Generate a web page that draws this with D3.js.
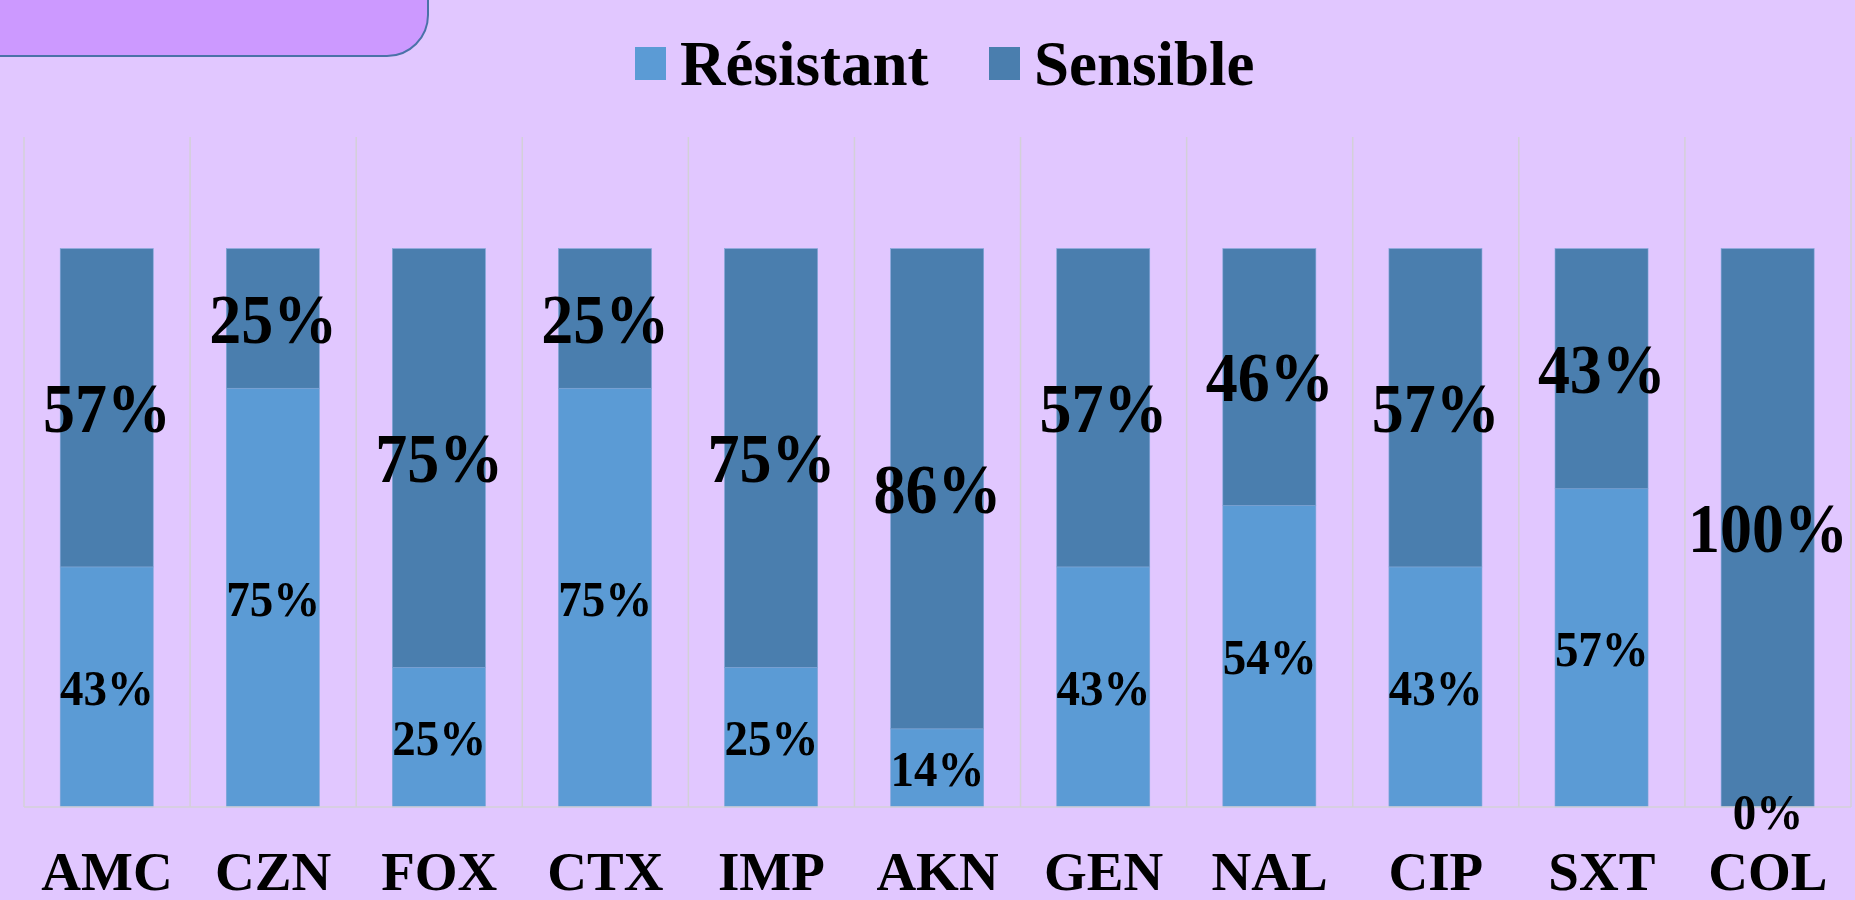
<!DOCTYPE html>
<html>
<head>
<meta charset="utf-8">
<script src="https://cdn.jsdelivr.net/npm/d3@7"></script>
<style>
  html, body { margin: 0; padding: 0; background: #e1c7ff; }
  svg { display: block; }
</style>
</head>
<body>
<svg id="chart" width="1855" height="900"></svg>
<script>
const categories = ["AMC", "CZN", "FOX", "CTX", "IMP", "AKN", "GEN", "NAL", "CIP", "SXT", "COL"];
const resistant = [43, 75, 25, 75, 25, 14, 43, 54, 43, 57, 0];
const sensible = [57, 25, 75, 25, 75, 86, 57, 46, 57, 43, 100];
const seriesNames = ["Résistant", "Sensible"];
const seriesColors = ["#5b9bd5", "#4a7eae"];

const W = 1855, H = 900;
const svg = d3.select("#chart");
const font = "'Liberation Serif', 'Times New Roman', serif";

svg.append("rect").attr("width", W).attr("height", H).attr("fill", "#e1c7ff");

// top-left decorative box
svg.append("rect")
  .attr("x", -60).attr("y", -60).attr("width", 488).attr("height", 116)
  .attr("rx", 41).attr("ry", 41)
  .attr("fill", "#cc99ff").attr("stroke", "#4a72a8").attr("stroke-width", 2);

const x = d3.scaleBand().domain(categories).range([24, 1851]).padding(0);
const y = d3.scaleLinear().domain([0, 120]).range([807, 137]);

// vertical gridlines at category boundaries
const bounds = categories.map(c => x(c)).concat([x(categories[categories.length - 1]) + x.bandwidth()]);
svg.append("g").selectAll("line").data(bounds).join("line")
  .attr("x1", d => d).attr("x2", d => d)
  .attr("y1", y(120)).attr("y2", y(0))
  .attr("stroke", "#d3d0d8").attr("stroke-width", 1.5);

const data = categories.map((c, i) => ({ cat: c, r: resistant[i], s: sensible[i] }));
const stack = d3.stack().keys(["r", "s"])(data);

const barOff = x.bandwidth() * 0.218, barW = x.bandwidth() * 0.56;

const layers = svg.append("g").selectAll("g").data(stack).join("g")
  .attr("fill", (d, i) => seriesColors[i]);
layers.selectAll("rect").data(d => d).join("rect")
  .attr("x", d => x(d.data.cat) + barOff)
  .attr("width", barW)
  .attr("y", d => y(d[1]))
  .attr("height", d => y(d[0]) - y(d[1]))
  .attr("stroke", "#7fa6d6").attr("stroke-width", 0.6);

// baseline
svg.append("line").attr("x1", 24).attr("x2", 1851).attr("y1", y(0)).attr("y2", y(0))
  .attr("stroke", "#d3d0d8").attr("stroke-width", 1.5);

// data labels
const labelSizes = [47, 64];
const labelStretch = [1.1, 1.08];
stack.forEach((layer, li) => {
  svg.append("g").selectAll("text").data(layer).join("text")
    .attr("transform", d => {
      const cx = x(d.data.cat) + x.bandwidth() / 2;
      let cy = (y(d[0]) + y(d[1])) / 2;
      if (d[1] - d[0] === 0) cy = y(d[0]) + 4;
      return `translate(${cx},${cy}) scale(1,${labelStretch[li]})`;
    })
    .attr("text-anchor", "middle")
    .attr("dy", "0.35em")
    .attr("font-family", font).attr("font-weight", "bold")
    .attr("font-size", labelSizes[li])
    .attr("fill", "#000")
    .text(d => (d[1] - d[0]) + "%");
});

// x axis labels
const xAxis = svg.append("g").attr("transform", `translate(0,${y(0)})`)
  .call(d3.axisBottom(x).tickSize(0).tickPadding(44));
xAxis.select(".domain").remove();
xAxis.selectAll("text")
  .attr("font-family", font).attr("font-weight", "bold")
  .attr("font-size", 55).attr("fill", "#000");

// legend
const legendX = [635, 989];
const leg = svg.append("g");
seriesNames.forEach((name, i) => {
  leg.append("rect").attr("x", legendX[i]).attr("y", 47).attr("width", 31).attr("height", 33)
    .attr("fill", seriesColors[i]);
  leg.append("text")
    .attr("x", legendX[i] + 45).attr("y", 85)
    .attr("font-family", font).attr("font-weight", "bold")
    .attr("font-size", 63).attr("fill", "#000")
    .text(name);
});
</script>
</body>
</html>
